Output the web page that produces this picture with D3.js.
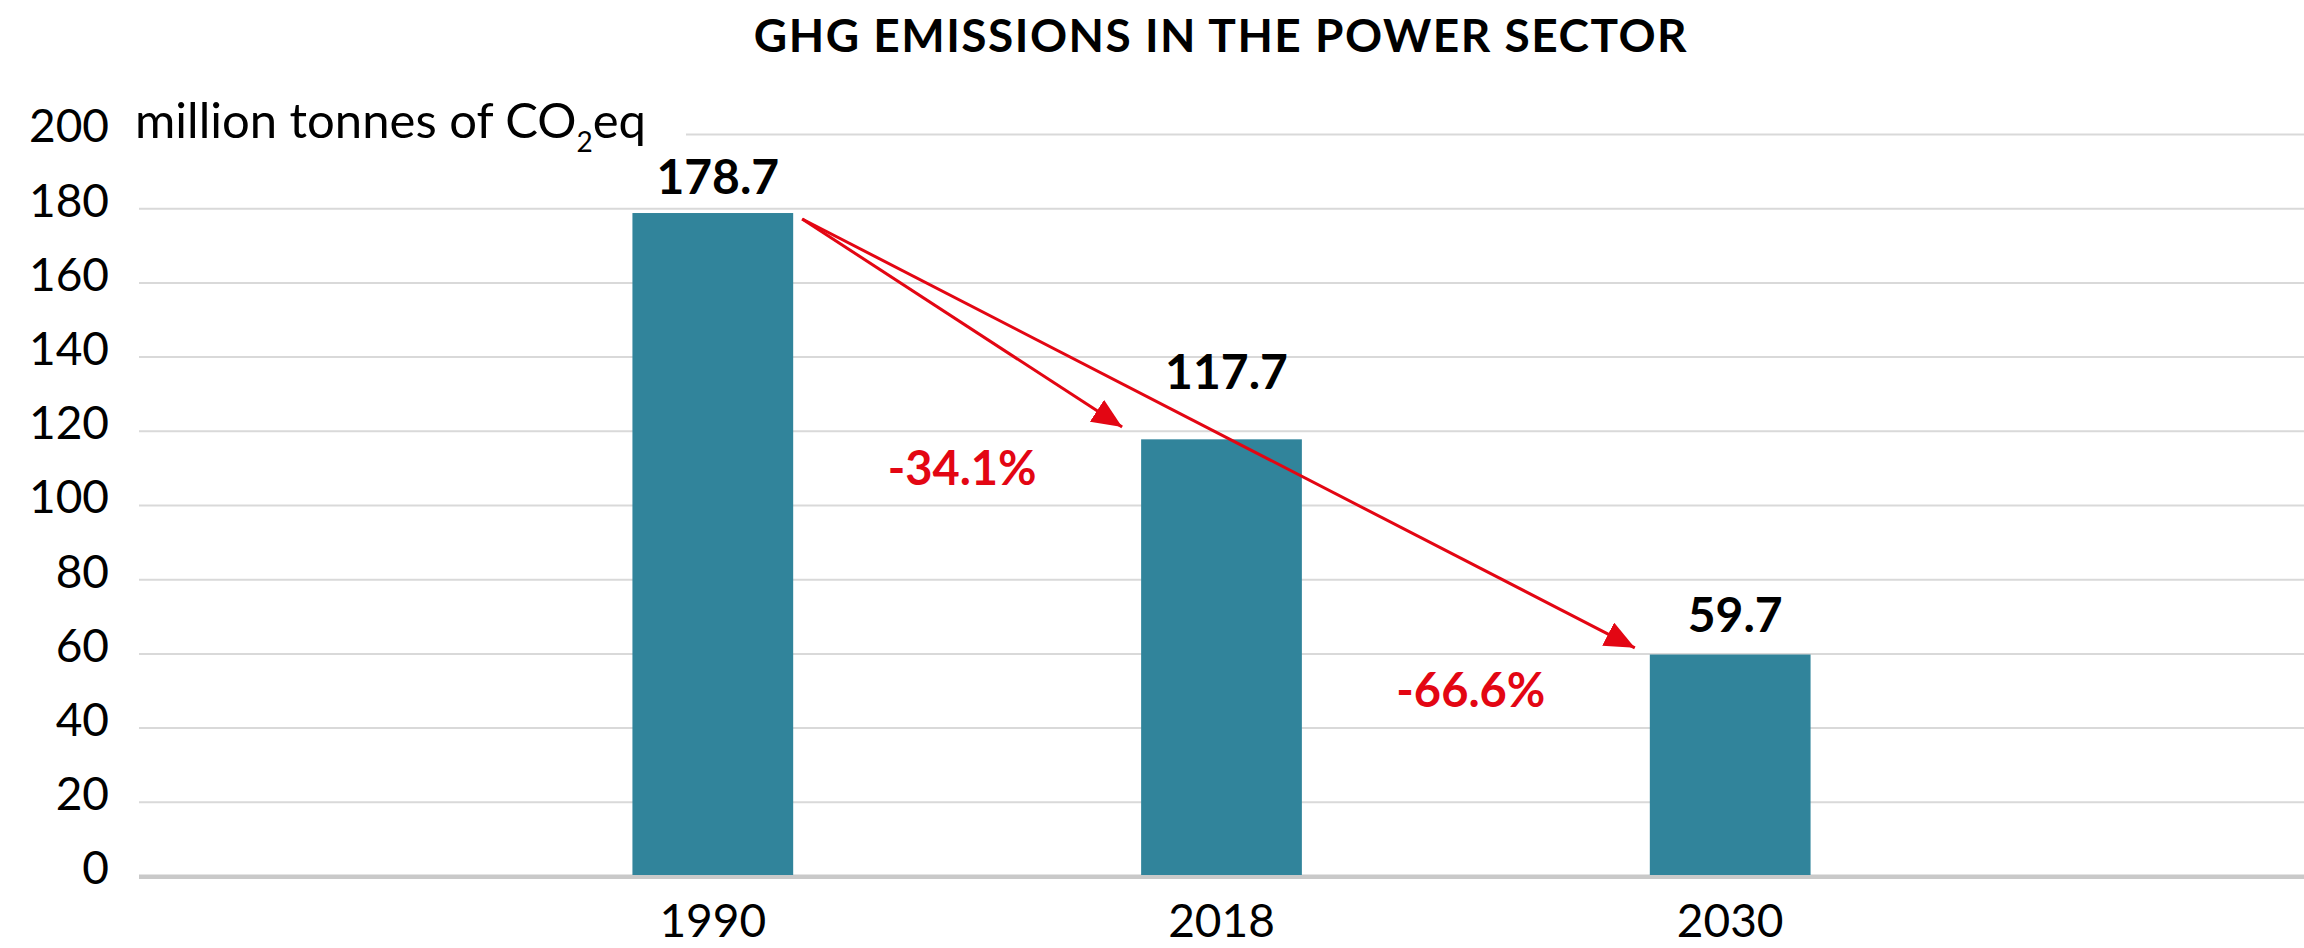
<!DOCTYPE html>
<html>
<head>
<meta charset="utf-8">
<script src="https://cdn.jsdelivr.net/npm/d3@7"></script>
<style>
  html, body { margin: 0; padding: 0; background: #fff; }
  svg { display: block; font-family: Lato, "Open Sans", sans-serif; }
</style>
</head>
<body>
<svg id="chart"></svg>
<script>
// data
const years = ['1990', '2018', '2030'];
const emissions = [178.7, 117.7, 59.7];
const yTicks = [0, 20, 40, 60, 80, 100, 120, 140, 160, 180, 200];
const title = 'GHG EMISSIONS IN THE POWER SECTOR';

// arrows: from one bar to another, value = where the line starts/ends
const arrows = [
  {from: 0, to: 1, y0: 177.1, y1: 121.0},
  {from: 0, to: 2, y0: 177.1, y1: 61.5}
];
// percent change labels, placed between the bars
const changes = [
  {from: 0, to: 1, y: 105.5},
  {from: 0, to: 2, y: 45.5, between: 1}
];

const W = 2304, H = 948;
const mLeft = 139, mRight = 2304, mTop = 134, mBottom = 876;
const barColor = '#31849b', red = '#e30613';
const labelLift = [19, 50, 23];  // 117.7 sits higher to clear the arrow

const svg = d3.select('#chart').attr('width', W).attr('height', H);

const x = d3.scaleBand().domain(years).range([mLeft, mRight])
  .paddingInner(0.684).paddingOuter(0.97);
const y = d3.scaleLinear().domain([0, 200]).range([mBottom, mTop]);

// title
svg.append('text')
  .attr('x', 1221).attr('y', 52)
  .attr('text-anchor', 'middle')
  .attr('font-size', 46).attr('font-weight', 700)
  .attr('letter-spacing', 1.5)
  .text(title);

// y axis + grid
const yAxis = svg.append('g')
  .attr('transform', `translate(${mLeft},0)`)
  .call(d3.axisLeft(y).tickValues(yTicks).tickSize(-(mRight - mLeft)).tickPadding(30));
yAxis.select('.domain').remove();
yAxis.selectAll('line').attr('stroke', '#d9d9d9').attr('stroke-width', 2);
yAxis.selectAll('text')
  .attr('font-size', 46).attr('fill', '#000')
  .attr('font-family', 'Lato').attr('dy', '0.17em');
yAxis.selectAll('.tick').filter(d => d === 0).select('line')
  .attr('stroke', '#c9c9c9').attr('stroke-width', 4);

// unit label, with white box that hides the top gridline
const unit = svg.append('g');
const unitText = unit.append('text')
  .attr('x', 135).attr('y', 138)
  .attr('font-size', 49);
unitText.append('tspan').text('million tonnes of CO');
unitText.append('tspan').attr('font-size', 28).attr('dy', 14).text('2');
unitText.append('tspan').attr('dy', -14).text('eq');
const bb = unitText.node().getBBox();
unit.insert('rect', 'text')
  .attr('x', bb.x - 4).attr('y', y(200) - 6)
  .attr('width', 686 - bb.x + 4).attr('height', 12)
  .attr('fill', '#fff');

// bars
svg.append('g').selectAll('rect')
  .data(emissions)
  .join('rect')
  .attr('x', (d, i) => x(years[i]))
  .attr('y', d => y(d))
  .attr('width', x.bandwidth())
  .attr('height', d => y(0) - y(d))
  .attr('fill', barColor);

// redraw baseline on top of bars
svg.append('line')
  .attr('x1', mLeft).attr('x2', mRight)
  .attr('y1', y(0) + 1).attr('y2', y(0) + 1)
  .attr('stroke', '#c9c9c9').attr('stroke-width', 4);

// value labels
svg.append('g').selectAll('text')
  .data(emissions)
  .join('text')
  .attr('x', (d, i) => x(years[i]) + x.bandwidth() / 2 + 5)
  .attr('y', (d, i) => y(d) - labelLift[i])
  .attr('text-anchor', 'middle')
  .attr('font-size', 48).attr('font-weight', 700)
  .text(d => d.toFixed(1));

// x labels
svg.append('g').selectAll('text')
  .data(years)
  .join('text')
  .attr('x', d => x(d) + x.bandwidth() / 2)
  .attr('y', 937)
  .attr('text-anchor', 'middle')
  .attr('font-size', 46)
  .text(d => d);

// arrows
svg.append('defs').append('marker')
  .attr('id', 'head')
  .attr('markerUnits', 'userSpaceOnUse')
  .attr('viewBox', '0 0 30 26')
  .attr('refX', 30).attr('refY', 13)
  .attr('markerWidth', 30).attr('markerHeight', 26)
  .attr('orient', 'auto')
  .append('path').attr('d', 'M0,0L30,13L0,26Z').attr('fill', red);

svg.append('g').selectAll('line')
  .data(arrows)
  .join('line')
  .attr('x1', d => x(years[d.from]) + x.bandwidth() + 9)
  .attr('y1', d => y(d.y0))
  .attr('x2', d => x(years[d.to]) - (d.to === 1 ? 19 : 15))
  .attr('y2', d => y(d.y1))
  .attr('stroke', red).attr('stroke-width', 3)
  .attr('marker-end', 'url(#head)');

// percent change labels
const mid = i => x(years[i]) + x.bandwidth() / 2;
svg.append('g').selectAll('text')
  .data(changes)
  .join('text')
  .attr('x', d => {
    const a = d.between !== undefined ? d.between : d.from;
    return (mid(a) + mid(d.to)) / 2 - 5;
  })
  .attr('y', d => y(d.y))
  .attr('text-anchor', 'middle')
  .attr('font-size', 47).attr('font-weight', 700)
  .attr('fill', red)
  .text(d => {
    const pct = (emissions[d.to] - emissions[d.from]) / emissions[d.from] * 100;
    return pct.toFixed(1) + '%';
  });
</script>
</body>
</html>
